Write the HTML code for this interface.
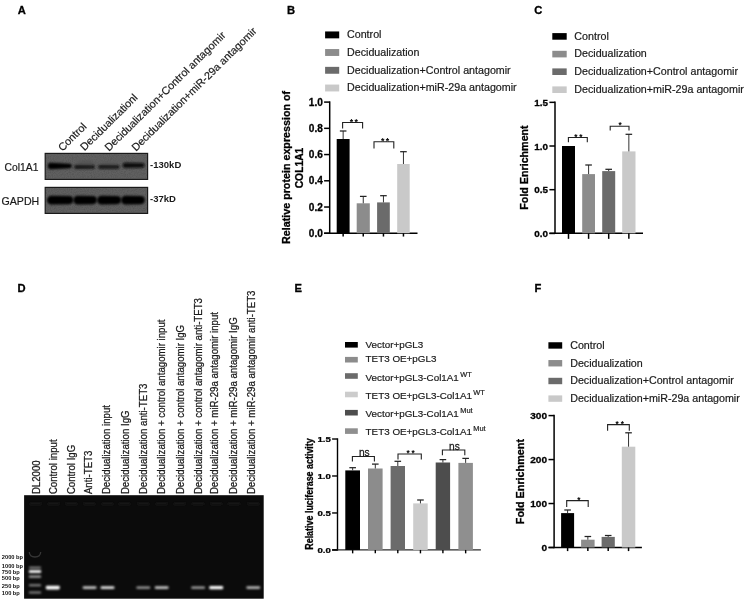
<!DOCTYPE html>
<html><head><meta charset="utf-8"><style>
html,body{margin:0;padding:0;background:#fff;}
body{width:749px;height:604px;overflow:hidden;position:relative;}
svg{position:absolute;left:0;top:0;font-family:"Liberation Sans", sans-serif;filter:grayscale(1) blur(0.35px);}
</style></head><body>
<svg width="749" height="604" viewBox="0 0 749 604">
<text transform="translate(17.70 13.70)" font-size="11.2" font-weight="bold" text-anchor="start" fill="#000" stroke="#000" stroke-width="0.3">A</text>
<text transform="translate(287.00 13.70)" font-size="11.2" font-weight="bold" text-anchor="start" fill="#000" stroke="#000" stroke-width="0.3">B</text>
<text transform="translate(534.20 13.75)" font-size="11.2" font-weight="bold" text-anchor="start" fill="#000" stroke="#000" stroke-width="0.3">C</text>
<text transform="translate(17.60 292.00)" font-size="11.2" font-weight="bold" text-anchor="start" fill="#000" stroke="#000" stroke-width="0.3">D</text>
<text transform="translate(294.60 292.00)" font-size="11.2" font-weight="bold" text-anchor="start" fill="#000" stroke="#000" stroke-width="0.3">E</text>
<text transform="translate(534.40 292.00)" font-size="11.2" font-weight="bold" text-anchor="start" fill="#000" stroke="#000" stroke-width="0.3">F</text>
<defs><filter id="bl1" x="-20%" y="-100%" width="140%" height="300%"><feGaussianBlur stdDeviation="0.9"/></filter><filter id="bl2" x="-20%" y="-100%" width="140%" height="300%"><feGaussianBlur stdDeviation="0.85"/></filter><filter id="glow" x="-30%" y="-200%" width="160%" height="500%"><feGaussianBlur stdDeviation="0.8"/></filter><filter id="grain" x="0" y="0" width="100%" height="100%" color-interpolation-filters="sRGB"><feTurbulence type="fractalNoise" baseFrequency="0.95" numOctaves="2" seed="3" result="n"/><feColorMatrix in="n" type="matrix" values="0 0 0 0 0.3  0 0 0 0 0.3  0 0 0 0 0.3  1.3 0 0 0 -0.5" result="g"/><feComposite in="g" in2="SourceGraphic" operator="in"/></filter></defs>
<rect x="45.20" y="153.40" width="102.40" height="26.00" fill="#606060" stroke="#1a1a1a" stroke-width="1.2"/>
<rect x="45.20" y="187.40" width="102.40" height="26.00" fill="#606060" stroke="#1a1a1a" stroke-width="1.2"/>
<rect x="45.80" y="154.00" width="101.20" height="24.80" fill="#606060" filter="url(#grain)"/>
<rect x="45.80" y="188.00" width="101.20" height="24.80" fill="#606060" filter="url(#grain)"/>
<ellipse cx="86" cy="163.5" rx="9" ry="3" fill="#555" filter="url(#bl1)"/>
<ellipse cx="110" cy="163.8" rx="9" ry="2.6" fill="#585858" filter="url(#bl1)"/>
<path d="M50.95,162.85 L69.45,163.65 A2.35,2.35 0 0 1 69.45,168.35 L50.95,169.15 A3.15,3.15 0 0 1 50.95,162.85 Z" fill="#050505" filter="url(#bl2)"/>
<path d="M75.95,165.05 L93.25,165.25 A1.75,1.75 0 0 1 93.25,168.75 L75.95,168.95 A1.95,1.95 0 0 1 75.95,165.05 Z" fill="#161616" filter="url(#bl2)"/>
<path d="M99.95,164.95 L117.85,165.15 A1.75,1.75 0 0 1 117.85,168.65 L99.95,168.85 A1.95,1.95 0 0 1 99.95,164.95 Z" fill="#161616" filter="url(#bl2)"/>
<path d="M125.20,162.70 L142.20,162.90 A2.40,2.40 0 0 1 142.20,167.70 L125.20,167.90 A2.60,2.60 0 0 1 125.20,162.70 Z" fill="#0a0a0a" filter="url(#bl2)"/>
<path d="M51.40,195.70 L69.20,196.00 A4.10,4.10 0 0 1 69.20,204.20 L51.40,204.50 A4.40,4.40 0 0 1 51.40,195.70 Z" fill="#030303" filter="url(#bl2)"/>
<path d="M77.70,195.70 L92.80,196.00 A4.10,4.10 0 0 1 92.80,204.20 L77.70,204.50 A4.40,4.40 0 0 1 77.70,195.70 Z" fill="#030303" filter="url(#bl2)"/>
<path d="M101.50,195.70 L117.00,196.00 A4.10,4.10 0 0 1 117.00,204.20 L101.50,204.50 A4.40,4.40 0 0 1 101.50,195.70 Z" fill="#030303" filter="url(#bl2)"/>
<path d="M125.50,195.70 L140.70,196.00 A4.10,4.10 0 0 1 140.70,204.20 L125.50,204.50 A4.40,4.40 0 0 1 125.50,195.70 Z" fill="#030303" filter="url(#bl2)"/>
<text transform="translate(38.40 170.90)" font-size="10.3" text-anchor="end" fill="#1a1a1a" stroke="#1a1a1a" stroke-width="0.2">Col1A1</text>
<text transform="translate(39.20 204.50)" font-size="10.6" text-anchor="end" fill="#1a1a1a" stroke="#1a1a1a" stroke-width="0.2">GAPDH</text>
<text transform="translate(150.10 168.40)" font-size="9.5" font-weight="bold" text-anchor="start" fill="#1a1a1a">-130kD</text>
<text transform="translate(150.10 201.70)" font-size="9.5" font-weight="bold" text-anchor="start" fill="#1a1a1a">-37kD</text>
<text transform="translate(62.50 151.70) rotate(-44.63)" font-size="10.76" text-anchor="start" fill="#1a1a1a" stroke="#1a1a1a" stroke-width="0.2">Control</text>
<text transform="translate(84.60 151.30) rotate(-44.63)" font-size="10.76" text-anchor="start" fill="#1a1a1a" stroke="#1a1a1a" stroke-width="0.2">Decidualizationl</text>
<text transform="translate(109.10 151.70) rotate(-44.63)" font-size="10.76" text-anchor="start" fill="#1a1a1a" stroke="#1a1a1a" stroke-width="0.2">Decidualization+Control antagomir</text>
<text transform="translate(135.90 151.70) rotate(-44.63)" font-size="10.76" text-anchor="start" fill="#1a1a1a" stroke="#1a1a1a" stroke-width="0.2">Decidualization+miR-29a antagomir</text>
<rect x="325.10" y="31.45" width="14.10" height="6.90" fill="#000" />
<text transform="translate(347.00 38.35)" font-size="10.7" text-anchor="start" fill="#1a1a1a" stroke="#1a1a1a" stroke-width="0.2">Control</text>
<rect x="325.10" y="49.05" width="14.10" height="6.90" fill="#8c8c8c" />
<text transform="translate(347.00 55.95)" font-size="10.7" text-anchor="start" fill="#1a1a1a" stroke="#1a1a1a" stroke-width="0.2">Decidualization</text>
<rect x="325.10" y="66.85" width="14.10" height="6.90" fill="#6b6b6b" />
<text transform="translate(347.00 73.75)" font-size="10.7" text-anchor="start" fill="#1a1a1a" stroke="#1a1a1a" stroke-width="0.2">Decidualization+Control antagomir</text>
<rect x="325.10" y="84.55" width="14.10" height="6.90" fill="#c9c9c9" />
<text transform="translate(347.00 91.45)" font-size="10.7" text-anchor="start" fill="#1a1a1a" stroke="#1a1a1a" stroke-width="0.2">Decidualization+miR-29a antagomir</text>
<line x1="329.70" y1="101.35" x2="329.70" y2="234.00" stroke="#000" stroke-width="1.5"/>
<line x1="324.10" y1="233.25" x2="329.70" y2="233.25" stroke="#000" stroke-width="1.5"/>
<text transform="translate(322.90 236.90)" font-size="10.1" font-weight="bold" text-anchor="end" fill="#000" stroke="#000" stroke-width="0.3">0.0</text>
<line x1="324.10" y1="207.02" x2="329.70" y2="207.02" stroke="#000" stroke-width="1.5"/>
<text transform="translate(322.90 210.67)" font-size="10.1" font-weight="bold" text-anchor="end" fill="#000" stroke="#000" stroke-width="0.3">0.2</text>
<line x1="324.10" y1="180.79" x2="329.70" y2="180.79" stroke="#000" stroke-width="1.5"/>
<text transform="translate(322.90 184.44)" font-size="10.1" font-weight="bold" text-anchor="end" fill="#000" stroke="#000" stroke-width="0.3">0.4</text>
<line x1="324.10" y1="154.56" x2="329.70" y2="154.56" stroke="#000" stroke-width="1.5"/>
<text transform="translate(322.90 158.21)" font-size="10.1" font-weight="bold" text-anchor="end" fill="#000" stroke="#000" stroke-width="0.3">0.6</text>
<line x1="324.10" y1="128.33" x2="329.70" y2="128.33" stroke="#000" stroke-width="1.5"/>
<text transform="translate(322.90 131.98)" font-size="10.1" font-weight="bold" text-anchor="end" fill="#000" stroke="#000" stroke-width="0.3">0.8</text>
<line x1="324.10" y1="102.10" x2="329.70" y2="102.10" stroke="#000" stroke-width="1.5"/>
<text transform="translate(322.90 105.75)" font-size="10.1" font-weight="bold" text-anchor="end" fill="#000" stroke="#000" stroke-width="0.3">1.0</text>
<line x1="324.10" y1="233.25" x2="329.70" y2="233.25" stroke="#000" stroke-width="1.5"/>
<line x1="329.70" y1="233.25" x2="417.50" y2="233.25" stroke="#000" stroke-width="1.5"/>
<rect x="336.70" y="139.00" width="12.90" height="94.25" fill="#000" />
<line x1="343.15" y1="233.25" x2="343.15" y2="236.55" stroke="#000" stroke-width="1.5"/>
<line x1="343.15" y1="131.00" x2="343.15" y2="139.00" stroke="#333" stroke-width="1.0"/>
<line x1="339.85" y1="131.00" x2="346.45" y2="131.00" stroke="#222" stroke-width="1.25"/>
<rect x="356.70" y="203.30" width="13.10" height="29.95" fill="#8c8c8c" />
<line x1="363.25" y1="233.25" x2="363.25" y2="236.55" stroke="#000" stroke-width="1.5"/>
<line x1="363.25" y1="196.40" x2="363.25" y2="203.30" stroke="#333" stroke-width="1.0"/>
<line x1="359.95" y1="196.40" x2="366.55" y2="196.40" stroke="#222" stroke-width="1.25"/>
<rect x="377.10" y="202.40" width="12.70" height="30.85" fill="#6b6b6b" />
<line x1="383.45" y1="233.25" x2="383.45" y2="236.55" stroke="#000" stroke-width="1.5"/>
<line x1="383.45" y1="195.70" x2="383.45" y2="202.40" stroke="#333" stroke-width="1.0"/>
<line x1="380.15" y1="195.70" x2="386.75" y2="195.70" stroke="#222" stroke-width="1.25"/>
<rect x="397.20" y="164.00" width="12.50" height="69.25" fill="#c9c9c9" />
<line x1="403.45" y1="233.25" x2="403.45" y2="236.55" stroke="#000" stroke-width="1.5"/>
<line x1="403.45" y1="151.70" x2="403.45" y2="164.00" stroke="#333" stroke-width="1.0"/>
<line x1="400.15" y1="151.70" x2="406.75" y2="151.70" stroke="#222" stroke-width="1.25"/>
<path d="M342.6,128.6 L342.6,122.5 L362.6,122.5 L362.6,128.6" stroke="#222" stroke-width="1.1" fill="none"/>
<text transform="translate(351.40 124.50)" font-size="8.8" font-weight="bold" text-anchor="middle" fill="#000">*</text>
<text transform="translate(356.20 124.50)" font-size="8.8" font-weight="bold" text-anchor="middle" fill="#000">*</text>
<path d="M374,148.4 L374,141.7 L393.8,141.7 L393.8,148.4" stroke="#222" stroke-width="1.1" fill="none"/>
<text transform="translate(382.70 143.70)" font-size="8.8" font-weight="bold" text-anchor="middle" fill="#000">*</text>
<text transform="translate(387.50 143.70)" font-size="8.8" font-weight="bold" text-anchor="middle" fill="#000">*</text>
<text transform="translate(290.30 167.40) rotate(-90)" font-size="10.72" font-weight="bold" text-anchor="middle" fill="#000" stroke="#000" stroke-width="0.3">Relative protein expression of</text>
<text transform="translate(303.00 168.00) rotate(-90)" font-size="10.3" font-weight="bold" text-anchor="middle" fill="#000" stroke="#000" stroke-width="0.3">COL1A1</text>
<rect x="552.30" y="33.10" width="14.40" height="6.60" fill="#000" />
<text transform="translate(574.30 39.75)" font-size="10.7" text-anchor="start" fill="#1a1a1a" stroke="#1a1a1a" stroke-width="0.2">Control</text>
<rect x="552.30" y="50.80" width="14.40" height="6.60" fill="#8c8c8c" />
<text transform="translate(574.30 57.45)" font-size="10.7" text-anchor="start" fill="#1a1a1a" stroke="#1a1a1a" stroke-width="0.2">Decidualization</text>
<rect x="552.30" y="68.40" width="14.40" height="6.60" fill="#6b6b6b" />
<text transform="translate(574.30 75.05)" font-size="10.7" text-anchor="start" fill="#1a1a1a" stroke="#1a1a1a" stroke-width="0.2">Decidualization+Control antagomir</text>
<rect x="552.30" y="86.40" width="14.40" height="6.60" fill="#c9c9c9" />
<text transform="translate(574.30 93.05)" font-size="10.7" text-anchor="start" fill="#1a1a1a" stroke="#1a1a1a" stroke-width="0.2">Decidualization+miR-29a antagomir</text>
<line x1="555.00" y1="101.59" x2="555.00" y2="234.10" stroke="#000" stroke-width="1.5"/>
<line x1="549.40" y1="233.35" x2="555.00" y2="233.35" stroke="#000" stroke-width="1.5"/>
<text transform="translate(548.10 236.95)" font-size="9.9" font-weight="bold" text-anchor="end" fill="#000" stroke="#000" stroke-width="0.3">0.0</text>
<line x1="549.40" y1="189.68" x2="555.00" y2="189.68" stroke="#000" stroke-width="1.5"/>
<text transform="translate(548.10 193.28)" font-size="9.9" font-weight="bold" text-anchor="end" fill="#000" stroke="#000" stroke-width="0.3">0.5</text>
<line x1="549.40" y1="146.01" x2="555.00" y2="146.01" stroke="#000" stroke-width="1.5"/>
<text transform="translate(548.10 149.61)" font-size="9.9" font-weight="bold" text-anchor="end" fill="#000" stroke="#000" stroke-width="0.3">1.0</text>
<line x1="549.40" y1="102.34" x2="555.00" y2="102.34" stroke="#000" stroke-width="1.5"/>
<text transform="translate(548.10 105.94)" font-size="9.9" font-weight="bold" text-anchor="end" fill="#000" stroke="#000" stroke-width="0.3">1.5</text>
<line x1="549.40" y1="233.35" x2="555.00" y2="233.35" stroke="#000" stroke-width="1.5"/>
<line x1="555.00" y1="233.35" x2="643.00" y2="233.35" stroke="#000" stroke-width="1.5"/>
<rect x="562.00" y="146.00" width="13.00" height="87.35" fill="#000" />
<line x1="568.50" y1="233.35" x2="568.50" y2="238.85" stroke="#000" stroke-width="1.5"/>
<rect x="582.20" y="174.10" width="12.80" height="59.25" fill="#8c8c8c" />
<line x1="588.60" y1="233.35" x2="588.60" y2="238.85" stroke="#000" stroke-width="1.5"/>
<line x1="588.60" y1="165.00" x2="588.60" y2="174.10" stroke="#333" stroke-width="1.0"/>
<line x1="585.30" y1="165.00" x2="591.90" y2="165.00" stroke="#222" stroke-width="1.25"/>
<rect x="602.20" y="171.10" width="13.00" height="62.25" fill="#6b6b6b" />
<line x1="608.70" y1="233.35" x2="608.70" y2="238.85" stroke="#000" stroke-width="1.5"/>
<line x1="608.70" y1="169.30" x2="608.70" y2="171.10" stroke="#333" stroke-width="1.0"/>
<line x1="605.40" y1="169.30" x2="612.00" y2="169.30" stroke="#222" stroke-width="1.25"/>
<rect x="622.20" y="151.40" width="13.30" height="81.95" fill="#c9c9c9" />
<line x1="628.85" y1="233.35" x2="628.85" y2="238.85" stroke="#000" stroke-width="1.5"/>
<line x1="628.85" y1="134.30" x2="628.85" y2="151.40" stroke="#333" stroke-width="1.0"/>
<line x1="625.55" y1="134.30" x2="632.15" y2="134.30" stroke="#222" stroke-width="1.25"/>
<path d="M568.4,142.3 L568.4,137.5 L587.3,137.5 L587.3,142.3" stroke="#222" stroke-width="1.1" fill="none"/>
<text transform="translate(575.95 139.60)" font-size="8.2" font-weight="bold" text-anchor="middle" fill="#000">*</text>
<text transform="translate(580.95 139.60)" font-size="8.2" font-weight="bold" text-anchor="middle" fill="#000">*</text>
<path d="M610.2,130.6 L610.2,126.3 L629,126.3 L629,130.6" stroke="#222" stroke-width="1.1" fill="none"/>
<text transform="translate(620.20 128.40)" font-size="8.2" font-weight="bold" text-anchor="middle" fill="#000">*</text>
<text transform="translate(527.60 167.50) rotate(-90)" font-size="10.7" font-weight="bold" text-anchor="middle" fill="#000" stroke="#000" stroke-width="0.3">Fold Enrichment</text>
<rect x="24.10" y="495.20" width="239.60" height="103.50" fill="#0b0b0b" />
<rect x="29.60" y="502.60" width="12.00" height="2.00" fill="#1c1c1c" filter="url(#glow)"/>
<rect x="47.70" y="502.60" width="12.00" height="2.00" fill="#1c1c1c" filter="url(#glow)"/>
<rect x="65.40" y="502.60" width="12.00" height="2.00" fill="#1c1c1c" filter="url(#glow)"/>
<rect x="83.40" y="502.60" width="12.00" height="2.00" fill="#1c1c1c" filter="url(#glow)"/>
<rect x="101.50" y="502.60" width="12.00" height="2.00" fill="#1c1c1c" filter="url(#glow)"/>
<rect x="118.50" y="502.60" width="12.00" height="2.00" fill="#1c1c1c" filter="url(#glow)"/>
<rect x="137.30" y="502.60" width="12.00" height="2.00" fill="#1c1c1c" filter="url(#glow)"/>
<rect x="155.70" y="502.60" width="12.00" height="2.00" fill="#1c1c1c" filter="url(#glow)"/>
<rect x="173.70" y="502.60" width="12.00" height="2.00" fill="#1c1c1c" filter="url(#glow)"/>
<rect x="192.10" y="502.60" width="12.00" height="2.00" fill="#1c1c1c" filter="url(#glow)"/>
<rect x="210.20" y="502.60" width="12.00" height="2.00" fill="#1c1c1c" filter="url(#glow)"/>
<rect x="228.00" y="502.60" width="12.00" height="2.00" fill="#1c1c1c" filter="url(#glow)"/>
<rect x="247.30" y="502.60" width="12.00" height="2.00" fill="#1c1c1c" filter="url(#glow)"/>
<path d="M29.3,552 Q29.5,557 35,557 Q40.5,557 40.7,552" stroke="#363636" stroke-width="1.3" fill="none"/>
<rect x="28.8" y="566.80" width="12.4" height="1.6" rx="1" fill="#9a9a9a" filter="url(#glow)"/>
<rect x="28.8" y="570.10" width="12.4" height="3.0" rx="1" fill="#f0f0f0" filter="url(#glow)"/>
<rect x="28.8" y="575.50" width="12.4" height="2.2" rx="1" fill="#a8a8a8" filter="url(#glow)"/>
<rect x="28.8" y="584.20" width="12.4" height="2.0" rx="1" fill="#8c8c8c" filter="url(#glow)"/>
<rect x="28.8" y="591.40" width="12.4" height="2.2" rx="1" fill="#8c8c8c" filter="url(#glow)"/>
<rect x="45.80" y="585.80" width="14" height="3.6" rx="1.3" fill="#ffffff" filter="url(#glow)"/>
<rect x="82.60" y="586.30" width="14" height="2.6" rx="1.3" fill="#c4c4c4" filter="url(#glow)"/>
<rect x="100.50" y="586.20" width="14" height="2.8" rx="1.3" fill="#e0e0e0" filter="url(#glow)"/>
<rect x="136.30" y="586.40" width="14" height="2.4" rx="1.3" fill="#a4a4a4" filter="url(#glow)"/>
<rect x="154.70" y="586.30" width="14" height="2.6" rx="1.3" fill="#c4c4c4" filter="url(#glow)"/>
<rect x="191.10" y="586.40" width="14" height="2.4" rx="1.3" fill="#ababab" filter="url(#glow)"/>
<rect x="209.20" y="586.00" width="14" height="3.2" rx="1.3" fill="#ffffff" filter="url(#glow)"/>
<rect x="246.30" y="586.30" width="14" height="2.6" rx="1.3" fill="#b4b4b4" filter="url(#glow)"/>
<text transform="translate(1.80 558.60)" font-size="5.7" font-weight="bold" text-anchor="start" fill="#111">2000 bp</text>
<text transform="translate(1.80 567.90)" font-size="5.7" font-weight="bold" text-anchor="start" fill="#111">1000 bp</text>
<text transform="translate(1.80 573.80)" font-size="5.7" font-weight="bold" text-anchor="start" fill="#111">750 bp</text>
<text transform="translate(1.80 579.80)" font-size="5.7" font-weight="bold" text-anchor="start" fill="#111">500 bp</text>
<text transform="translate(1.80 587.80)" font-size="5.7" font-weight="bold" text-anchor="start" fill="#111">250 bp</text>
<text transform="translate(1.80 595.20)" font-size="5.7" font-weight="bold" text-anchor="start" fill="#111">100 bp</text>
<text transform="translate(39.70 494.10) rotate(-90) scale(0.92 1.0)" font-size="10.5" text-anchor="start" fill="#1a1a1a" stroke="#1a1a1a" stroke-width="0.26">DL2000</text>
<text transform="translate(57.00 494.10) rotate(-90) scale(0.92 1.0)" font-size="10.5" text-anchor="start" fill="#1a1a1a" stroke="#1a1a1a" stroke-width="0.26">Control input</text>
<text transform="translate(75.20 494.10) rotate(-90) scale(0.92 1.0)" font-size="10.5" text-anchor="start" fill="#1a1a1a" stroke="#1a1a1a" stroke-width="0.26">Control IgG</text>
<text transform="translate(91.60 494.10) rotate(-90) scale(0.92 1.0)" font-size="10.5" text-anchor="start" fill="#1a1a1a" stroke="#1a1a1a" stroke-width="0.26">Anti-TET3</text>
<text transform="translate(109.50 494.10) rotate(-90) scale(0.92 1.0)" font-size="10.5" text-anchor="start" fill="#1a1a1a" stroke="#1a1a1a" stroke-width="0.26">Decidualization input</text>
<text transform="translate(129.10 494.10) rotate(-90) scale(0.92 1.0)" font-size="10.5" text-anchor="start" fill="#1a1a1a" stroke="#1a1a1a" stroke-width="0.26">Decidualization IgG</text>
<text transform="translate(147.30 494.10) rotate(-90) scale(0.92 1.0)" font-size="10.5" text-anchor="start" fill="#1a1a1a" stroke="#1a1a1a" stroke-width="0.26">Decidualization anti-TET3</text>
<text transform="translate(164.80 494.10) rotate(-90) scale(0.92 1.0)" font-size="10.5" text-anchor="start" fill="#1a1a1a" stroke="#1a1a1a" stroke-width="0.26">Decidualization + control antagomir input</text>
<text transform="translate(183.50 494.10) rotate(-90) scale(0.92 1.0)" font-size="10.5" text-anchor="start" fill="#1a1a1a" stroke="#1a1a1a" stroke-width="0.26">Decidualization + control antagomir IgG</text>
<text transform="translate(202.20 494.10) rotate(-90) scale(0.92 1.0)" font-size="10.5" text-anchor="start" fill="#1a1a1a" stroke="#1a1a1a" stroke-width="0.26">Decidualization + control antagomir anti-TET3</text>
<text transform="translate(218.10 494.10) rotate(-90) scale(0.92 1.0)" font-size="10.5" text-anchor="start" fill="#1a1a1a" stroke="#1a1a1a" stroke-width="0.26">Decidualization + miR-29a antagomir input</text>
<text transform="translate(237.20 494.10) rotate(-90) scale(0.92 1.0)" font-size="10.5" text-anchor="start" fill="#1a1a1a" stroke="#1a1a1a" stroke-width="0.26">Decidualization + miR-29a antagomir IgG</text>
<text transform="translate(255.00 494.10) rotate(-90) scale(0.92 1.0)" font-size="10.5" text-anchor="start" fill="#1a1a1a" stroke="#1a1a1a" stroke-width="0.26">Decidualization + miR-29a antagomir anti-TET3</text>
<rect x="345.00" y="342.00" width="12.80" height="5.60" fill="#000" />
<text transform="translate(365.6 347.90) scale(1 0.88)" font-size="9.85" fill="#1a1a1a" stroke="#1a1a1a" stroke-width="0.2">Vector+pGL3</text>
<rect x="345.00" y="356.90" width="12.80" height="5.60" fill="#8c8c8c" />
<text transform="translate(365.6 362.40) scale(1 0.88)" font-size="9.85" fill="#1a1a1a" stroke="#1a1a1a" stroke-width="0.2">TET3 OE+pGL3</text>
<rect x="345.00" y="373.20" width="12.80" height="5.60" fill="#6b6b6b" />
<text transform="translate(365.6 380.80) scale(1 0.88)" font-size="9.85" fill="#1a1a1a" stroke="#1a1a1a" stroke-width="0.2">Vector+pGL3-Col1A1<tspan font-size="7.4" dx="1.4" dy="-4.89">WT</tspan></text>
<rect x="345.00" y="391.70" width="12.80" height="5.60" fill="#cccccc" />
<text transform="translate(365.6 398.90) scale(1 0.88)" font-size="9.85" fill="#1a1a1a" stroke="#1a1a1a" stroke-width="0.2">TET3 OE+pGL3-Col1A1<tspan font-size="7.4" dx="1.4" dy="-4.89">WT</tspan></text>
<rect x="345.00" y="409.90" width="12.80" height="5.60" fill="#4d4d4d" />
<text transform="translate(365.6 417.40) scale(1 0.88)" font-size="9.85" fill="#1a1a1a" stroke="#1a1a1a" stroke-width="0.2">Vector+pGL3-Col1A1<tspan font-size="7.4" dx="1.4" dy="-4.89">Mut</tspan></text>
<rect x="345.00" y="428.30" width="12.80" height="5.60" fill="#8f8f8f" />
<text transform="translate(365.6 435.30) scale(1 0.88)" font-size="9.85" fill="#1a1a1a" stroke="#1a1a1a" stroke-width="0.2">TET3 OE+pGL3-Col1A1<tspan font-size="7.4" dx="1.4" dy="-4.89">Mut</tspan></text>
<line x1="337.50" y1="438.31" x2="337.50" y2="550.65" stroke="#000" stroke-width="1.4"/>
<line x1="332.10" y1="549.95" x2="337.50" y2="549.95" stroke="#000" stroke-width="1.4"/>
<text transform="translate(330.80 552.75) scale(1.0 0.8)" font-size="9.6" font-weight="bold" text-anchor="end" fill="#000" stroke="#000" stroke-width="0.3">0.0</text>
<line x1="332.10" y1="512.97" x2="337.50" y2="512.97" stroke="#000" stroke-width="1.4"/>
<text transform="translate(330.80 515.77) scale(1.0 0.8)" font-size="9.6" font-weight="bold" text-anchor="end" fill="#000" stroke="#000" stroke-width="0.3">0.5</text>
<line x1="332.10" y1="475.99" x2="337.50" y2="475.99" stroke="#000" stroke-width="1.4"/>
<text transform="translate(330.80 478.79) scale(1.0 0.8)" font-size="9.6" font-weight="bold" text-anchor="end" fill="#000" stroke="#000" stroke-width="0.3">1.0</text>
<line x1="332.10" y1="439.01" x2="337.50" y2="439.01" stroke="#000" stroke-width="1.4"/>
<text transform="translate(330.80 441.81) scale(1.0 0.8)" font-size="9.6" font-weight="bold" text-anchor="end" fill="#000" stroke="#000" stroke-width="0.3">1.5</text>
<line x1="332.10" y1="549.95" x2="337.50" y2="549.95" stroke="#000" stroke-width="1.4"/>
<line x1="337.50" y1="549.95" x2="480.90" y2="549.95" stroke="#2c2c2c" stroke-width="1.3"/>
<rect x="345.30" y="470.40" width="14.70" height="79.55" fill="#000" />
<line x1="352.65" y1="549.95" x2="352.65" y2="553.35" stroke="#000" stroke-width="1.4"/>
<line x1="352.65" y1="467.70" x2="352.65" y2="470.40" stroke="#333" stroke-width="1.0"/>
<line x1="349.35" y1="467.70" x2="355.95" y2="467.70" stroke="#222" stroke-width="1.25"/>
<rect x="368.00" y="468.50" width="14.60" height="81.45" fill="#8c8c8c" />
<line x1="375.30" y1="549.95" x2="375.30" y2="553.35" stroke="#000" stroke-width="1.4"/>
<line x1="375.30" y1="464.10" x2="375.30" y2="468.50" stroke="#333" stroke-width="1.0"/>
<line x1="372.00" y1="464.10" x2="378.60" y2="464.10" stroke="#222" stroke-width="1.25"/>
<rect x="390.60" y="466.00" width="14.40" height="83.95" fill="#6b6b6b" />
<line x1="397.80" y1="549.95" x2="397.80" y2="553.35" stroke="#000" stroke-width="1.4"/>
<line x1="397.80" y1="461.30" x2="397.80" y2="466.00" stroke="#333" stroke-width="1.0"/>
<line x1="394.50" y1="461.30" x2="401.10" y2="461.30" stroke="#222" stroke-width="1.25"/>
<rect x="413.20" y="503.40" width="14.50" height="46.55" fill="#cccccc" />
<line x1="420.45" y1="549.95" x2="420.45" y2="553.35" stroke="#000" stroke-width="1.4"/>
<line x1="420.45" y1="500.00" x2="420.45" y2="503.40" stroke="#333" stroke-width="1.0"/>
<line x1="417.15" y1="500.00" x2="423.75" y2="500.00" stroke="#222" stroke-width="1.25"/>
<rect x="435.70" y="462.50" width="14.40" height="87.45" fill="#4d4d4d" />
<line x1="442.90" y1="549.95" x2="442.90" y2="553.35" stroke="#000" stroke-width="1.4"/>
<line x1="442.90" y1="459.60" x2="442.90" y2="462.50" stroke="#333" stroke-width="1.0"/>
<line x1="439.60" y1="459.60" x2="446.20" y2="459.60" stroke="#222" stroke-width="1.25"/>
<rect x="458.40" y="462.90" width="14.50" height="87.05" fill="#8f8f8f" />
<line x1="465.65" y1="549.95" x2="465.65" y2="553.35" stroke="#000" stroke-width="1.4"/>
<line x1="465.65" y1="458.40" x2="465.65" y2="462.90" stroke="#333" stroke-width="1.0"/>
<line x1="462.35" y1="458.40" x2="468.95" y2="458.40" stroke="#222" stroke-width="1.25"/>
<path d="M352.4,461.6 L352.4,456.5 L374.4,456.5 L374.4,461.6" stroke="#222" stroke-width="1.1" fill="none"/>
<text transform="translate(364.30 456.20) scale(1.0 1.02)" font-size="10.2" text-anchor="middle" fill="#1a1a1a" stroke="#1a1a1a" stroke-width="0.25">ns</text>
<path d="M398,459.6 L398,454 L421.3,454 L421.3,459.6" stroke="#222" stroke-width="1.1" fill="none"/>
<text transform="translate(408.05 456.10)" font-size="8.2" font-weight="bold" text-anchor="middle" fill="#000">*</text>
<text transform="translate(413.05 456.10)" font-size="8.2" font-weight="bold" text-anchor="middle" fill="#000">*</text>
<path d="M442.4,455.3 L442.4,450 L464.8,450 L464.8,455.3" stroke="#222" stroke-width="1.1" fill="none"/>
<text transform="translate(454.50 449.70) scale(1.0 1.02)" font-size="10.2" text-anchor="middle" fill="#1a1a1a" stroke="#1a1a1a" stroke-width="0.25">ns</text>
<text transform="translate(312.60 494.00) rotate(-90) scale(0.85 1.0)" font-size="10.5" font-weight="bold" text-anchor="middle" fill="#000" stroke="#000" stroke-width="0.3">Relative luciferase activity</text>
<rect x="548.40" y="342.25" width="13.80" height="6.40" fill="#000" />
<text transform="translate(570.20 348.70)" font-size="10.7" text-anchor="start" fill="#1a1a1a" stroke="#1a1a1a" stroke-width="0.2">Control</text>
<rect x="548.40" y="360.05" width="13.80" height="6.40" fill="#8c8c8c" />
<text transform="translate(570.20 366.50)" font-size="10.7" text-anchor="start" fill="#1a1a1a" stroke="#1a1a1a" stroke-width="0.2">Decidualization</text>
<rect x="548.40" y="377.80" width="13.80" height="6.40" fill="#6b6b6b" />
<text transform="translate(570.20 384.25)" font-size="10.7" text-anchor="start" fill="#1a1a1a" stroke="#1a1a1a" stroke-width="0.2">Decidualization+Control antagomir</text>
<rect x="548.40" y="395.40" width="13.80" height="6.40" fill="#c9c9c9" />
<text transform="translate(570.20 401.85)" font-size="10.7" text-anchor="start" fill="#1a1a1a" stroke="#1a1a1a" stroke-width="0.2">Decidualization+miR-29a antagomir</text>
<line x1="554.10" y1="414.84" x2="554.10" y2="548.25" stroke="#000" stroke-width="1.5"/>
<line x1="548.50" y1="547.50" x2="554.10" y2="547.50" stroke="#000" stroke-width="1.5"/>
<text transform="translate(547.10 551.00) scale(1.0 0.9)" font-size="10.1" font-weight="bold" text-anchor="end" fill="#000" stroke="#000" stroke-width="0.3">0</text>
<line x1="548.50" y1="503.53" x2="554.10" y2="503.53" stroke="#000" stroke-width="1.5"/>
<text transform="translate(547.10 507.03) scale(1.0 0.9)" font-size="10.1" font-weight="bold" text-anchor="end" fill="#000" stroke="#000" stroke-width="0.3">100</text>
<line x1="548.50" y1="459.56" x2="554.10" y2="459.56" stroke="#000" stroke-width="1.5"/>
<text transform="translate(547.10 463.06) scale(1.0 0.9)" font-size="10.1" font-weight="bold" text-anchor="end" fill="#000" stroke="#000" stroke-width="0.3">200</text>
<line x1="548.50" y1="415.59" x2="554.10" y2="415.59" stroke="#000" stroke-width="1.5"/>
<text transform="translate(547.10 419.09) scale(1.0 0.9)" font-size="10.1" font-weight="bold" text-anchor="end" fill="#000" stroke="#000" stroke-width="0.3">300</text>
<line x1="548.50" y1="547.50" x2="554.10" y2="547.50" stroke="#000" stroke-width="1.5"/>
<line x1="554.10" y1="547.50" x2="641.90" y2="547.50" stroke="#000" stroke-width="1.5"/>
<rect x="561.10" y="513.10" width="13.00" height="34.40" fill="#000" />
<line x1="567.60" y1="547.50" x2="567.60" y2="551.10" stroke="#000" stroke-width="1.5"/>
<line x1="567.60" y1="510.00" x2="567.60" y2="513.10" stroke="#333" stroke-width="1.0"/>
<line x1="564.30" y1="510.00" x2="570.90" y2="510.00" stroke="#222" stroke-width="1.25"/>
<rect x="581.10" y="539.70" width="13.50" height="7.80" fill="#8c8c8c" />
<line x1="587.85" y1="547.50" x2="587.85" y2="551.10" stroke="#000" stroke-width="1.5"/>
<line x1="587.85" y1="536.50" x2="587.85" y2="539.70" stroke="#333" stroke-width="1.0"/>
<line x1="584.55" y1="536.50" x2="591.15" y2="536.50" stroke="#222" stroke-width="1.25"/>
<rect x="601.60" y="536.90" width="13.20" height="10.60" fill="#6b6b6b" />
<line x1="608.20" y1="547.50" x2="608.20" y2="551.10" stroke="#000" stroke-width="1.5"/>
<line x1="608.20" y1="535.50" x2="608.20" y2="536.90" stroke="#333" stroke-width="1.0"/>
<line x1="604.90" y1="535.50" x2="611.50" y2="535.50" stroke="#222" stroke-width="1.25"/>
<rect x="621.80" y="446.70" width="13.50" height="100.80" fill="#c9c9c9" />
<line x1="628.55" y1="547.50" x2="628.55" y2="551.10" stroke="#000" stroke-width="1.5"/>
<line x1="628.55" y1="432.80" x2="628.55" y2="446.70" stroke="#333" stroke-width="1.0"/>
<line x1="625.25" y1="432.80" x2="631.85" y2="432.80" stroke="#222" stroke-width="1.25"/>
<path d="M566.7,507 L566.7,500.6 L588.2,500.6 L588.2,507" stroke="#222" stroke-width="1.1" fill="none"/>
<text transform="translate(578.75 502.70)" font-size="8.2" font-weight="bold" text-anchor="middle" fill="#000">*</text>
<path d="M607.6,430.7 L607.6,424.6 L629.3,424.6 L629.3,430.7" stroke="#222" stroke-width="1.1" fill="none"/>
<text transform="translate(617.15 426.70)" font-size="8.2" font-weight="bold" text-anchor="middle" fill="#000">*</text>
<text transform="translate(622.35 426.70)" font-size="8.2" font-weight="bold" text-anchor="middle" fill="#000">*</text>
<text transform="translate(524.00 481.60) rotate(-90)" font-size="10.8" font-weight="bold" text-anchor="middle" fill="#000" stroke="#000" stroke-width="0.3">Fold Enrichment</text>
</svg>
</body></html>
